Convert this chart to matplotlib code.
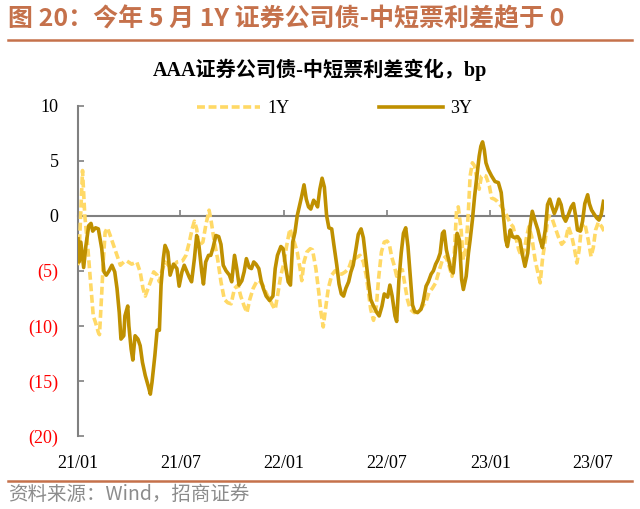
import matplotlib.pyplot as plt
import matplotlib.dates as mdates
from matplotlib.lines import Line2D
import pandas as pd

# AAA 证券公司债 - 中短票 利差 (bp)
dates_3y = ['2021-01-01', '2021-01-03', '2021-01-06', '2021-01-11', '2021-01-15', '2021-01-20', '2021-01-24',
            '2021-01-27', '2021-02-01', '2021-02-06', '2021-02-12', '2021-02-16', '2021-02-20', '2021-02-25',
            '2021-03-02', '2021-03-07', '2021-03-11', '2021-03-15', '2021-03-18', '2021-03-23', '2021-03-25',
            '2021-03-30', '2021-04-01', '2021-04-05', '2021-04-08', '2021-04-12', '2021-04-17', '2021-04-21',
            '2021-04-25', '2021-04-30', '2021-05-06', '2021-05-09', '2021-05-12', '2021-05-17', '2021-05-21',
            '2021-05-25', '2021-05-28', '2021-06-01', '2021-06-04', '2021-06-09', '2021-06-13', '2021-06-19',
            '2021-06-25', '2021-06-29', '2021-07-04', '2021-07-08', '2021-07-13', '2021-07-17', '2021-07-21',
            '2021-07-26', '2021-07-30', '2021-08-03', '2021-08-08', '2021-08-11', '2021-08-15', '2021-08-20',
            '2021-08-24', '2021-08-28', '2021-09-02', '2021-09-07', '2021-09-11', '2021-09-15', '2021-09-20',
            '2021-09-26', '2021-09-30', '2021-10-05', '2021-10-09', '2021-10-13', '2021-10-18', '2021-10-22',
            '2021-10-26', '2021-10-31', '2021-11-04', '2021-11-08', '2021-11-12', '2021-11-17', '2021-11-21',
            '2021-11-25', '2021-11-30', '2021-12-06', '2021-12-12', '2021-12-16', '2021-12-20', '2021-12-26',
            '2021-12-30', '2022-01-04', '2022-01-08', '2022-01-12', '2022-01-16', '2022-01-20', '2022-01-24',
            '2022-01-28', '2022-02-01', '2022-02-05', '2022-02-09', '2022-02-13', '2022-02-17', '2022-02-22',
            '2022-02-26', '2022-03-01', '2022-03-05', '2022-03-09', '2022-03-13', '2022-03-17', '2022-03-21',
            '2022-03-26', '2022-03-30', '2022-04-04', '2022-04-08', '2022-04-12', '2022-04-16', '2022-04-20',
            '2022-04-25', '2022-04-29', '2022-05-03', '2022-05-08', '2022-05-12', '2022-05-17', '2022-05-21',
            '2022-05-26', '2022-05-30', '2022-06-03', '2022-06-08', '2022-06-14', '2022-06-18', '2022-06-23',
            '2022-06-27', '2022-07-03', '2022-07-07', '2022-07-11', '2022-07-16', '2022-07-19', '2022-07-23',
            '2022-07-27', '2022-07-31', '2022-08-04', '2022-08-08', '2022-08-12', '2022-08-16', '2022-08-20',
            '2022-08-25', '2022-08-31', '2022-09-04', '2022-09-09', '2022-09-13', '2022-09-18', '2022-09-22',
            '2022-09-26', '2022-09-30', '2022-10-04', '2022-10-08', '2022-10-11', '2022-10-15', '2022-10-19',
            '2022-10-23', '2022-10-27', '2022-10-31', '2022-11-03', '2022-11-07', '2022-11-11', '2022-11-14',
            '2022-11-19', '2022-11-23', '2022-11-26', '2022-11-30', '2022-12-04', '2022-12-08', '2022-12-12',
            '2022-12-15', '2022-12-18', '2022-12-21', '2022-12-24', '2022-12-28', '2023-01-03', '2023-01-09',
            '2023-01-15', '2023-01-20', '2023-01-24', '2023-01-28', '2023-01-31', '2023-02-05', '2023-02-09',
            '2023-02-13', '2023-02-18', '2023-02-22', '2023-02-26', '2023-03-03', '2023-03-08', '2023-03-12',
            '2023-03-16', '2023-03-21', '2023-03-26', '2023-03-30', '2023-04-03', '2023-04-08', '2023-04-12',
            '2023-04-16', '2023-04-20', '2023-04-24', '2023-04-28', '2023-05-02', '2023-05-06', '2023-05-10',
            '2023-05-14', '2023-05-19', '2023-05-24', '2023-05-28', '2023-06-01', '2023-06-04', '2023-06-09',
            '2023-06-13', '2023-06-17', '2023-06-22', '2023-06-25', '2023-06-29', '2023-07-04', '2023-07-08',
            '2023-07-12', '2023-07-16', '2023-07-20']
spread_3y = [-2.1, -4.2, -2.4, -4.7, -2.7, -0.9, -0.7,
             -1.4, -1.1, -1.2, -3.0, -5.1, -5.4, -5.0,
             -4.5, -5.1, -6.6, -8.8, -11.2, -10.9, -9.1,
             -8.2, -10.0, -12.1, -13.1, -10.9, -11.2, -11.8,
             -13.3, -14.5, -15.6, -16.2, -15.1, -12.7, -10.4,
             -10.4, -6.3, -3.9, -2.7, -3.3, -5.4, -4.4,
             -4.8, -6.4, -5.1, -4.5, -5.1, -5.6, -6.0,
             -3.9, -1.8, -2.7, -5.1, -6.2, -4.2, -3.6,
             -3.6, -2.9, -1.8, -1.9, -2.6, -4.5, -5.0,
             -5.4, -6.0, -3.6, -4.8, -6.3, -5.9, -5.1,
             -3.9, -4.7, -4.8, -4.2, -4.4, -4.8, -5.9,
             -6.6, -7.3, -7.7, -7.3, -4.8, -3.6, -2.8,
             -3.0, -4.8, -6.0, -6.3, -2.4, -1.5, 0.0,
             0.9, 1.8, 2.8, 1.5, 0.8, 0.6, 1.4,
             1.1, 0.8, 2.4, 3.4, 2.6, 0.0, -1.1,
             -1.2, -2.7, -4.5, -6.2, -7.1, -7.3, -6.6,
             -6.0, -5.1, -4.5, -3.0, -1.7, -1.2, -2.0,
             -4.2, -6.0, -7.6, -8.2, -8.8, -9.1, -8.2,
             -7.1, -7.4, -6.3, -7.3, -9.1, -9.6, -5.8,
             -3.4, -1.6, -1.1, -2.8, -5.5, -8.1, -8.7,
             -8.8, -8.5, -7.8, -6.4, -6.0, -5.3, -5.0,
             -4.4, -4.0, -3.4, -1.6, -1.4, -3.1, -4.0,
             -4.9, -5.2, -3.1, -1.6, -2.2, -5.8, -6.7,
             -5.5, -3.4, -2.2, -0.4, 1.8, 3.6, 5.4,
             6.3, 6.7, 6.0, 4.8, 4.2, 3.6, 3.1,
             3.0, 2.1, -0.1, -2.2, -2.8, -1.3, -1.9,
             -2.0, -1.9, -2.2, -3.4, -4.6, -3.4, -1.0,
             0.4, -0.5, -1.3, -2.2, -2.9, -1.3, 1.0,
             1.5, 0.8, 0.2, 0.7, 1.5, 1.0, -0.1,
             -0.5, 0.1, 0.8, 1.1, -0.1, -1.3, -1.4,
             -0.5, 1.1, 1.9, 1.1, 0.5, 0.1, -0.2,
             -0.4, 0.1, 1.3]

dates_1y = ['2021-01-01', '2021-01-04', '2021-01-09', '2021-01-13', '2021-01-18', '2021-01-24', '2021-01-28',
            '2021-02-01', '2021-02-06', '2021-02-08', '2021-02-12', '2021-02-15', '2021-02-18', '2021-02-22',
            '2021-02-27', '2021-03-05', '2021-03-11', '2021-03-17', '2021-03-23', '2021-03-28', '2021-04-06',
            '2021-04-15', '2021-04-21', '2021-04-26', '2021-04-30', '2021-05-05', '2021-05-10', '2021-05-15',
            '2021-05-21', '2021-05-25', '2021-05-29', '2021-06-04', '2021-06-10', '2021-06-16', '2021-06-25',
            '2021-07-05', '2021-07-11', '2021-07-17', '2021-07-22', '2021-07-26', '2021-07-30', '2021-08-03',
            '2021-08-10', '2021-08-15', '2021-08-21', '2021-08-25', '2021-08-30', '2021-09-05', '2021-09-11',
            '2021-09-17', '2021-09-23', '2021-09-29', '2021-10-05', '2021-10-11', '2021-10-16', '2021-10-22',
            '2021-10-27', '2021-11-01', '2021-11-07', '2021-11-13', '2021-11-18', '2021-11-24', '2021-11-30',
            '2021-12-06', '2021-12-12', '2021-12-16', '2021-12-20', '2021-12-26', '2022-01-01', '2022-01-05',
            '2022-01-11', '2022-01-17', '2022-01-24', '2022-01-29', '2022-02-01', '2022-02-05', '2022-02-10',
            '2022-02-16', '2022-02-20', '2022-02-26', '2022-03-03', '2022-03-07', '2022-03-11', '2022-03-15',
            '2022-03-20', '2022-03-26', '2022-04-01', '2022-04-07', '2022-04-13', '2022-04-19', '2022-04-25',
            '2022-05-01', '2022-05-06', '2022-05-15', '2022-05-21', '2022-05-26', '2022-05-30', '2022-06-03',
            '2022-06-08', '2022-06-13', '2022-06-17', '2022-06-22', '2022-06-27', '2022-07-02', '2022-07-06',
            '2022-07-10', '2022-07-15', '2022-07-19', '2022-07-24', '2022-07-29', '2022-08-02', '2022-08-07',
            '2022-08-12', '2022-08-19', '2022-08-28', '2022-09-03', '2022-09-09', '2022-09-14', '2022-09-20',
            '2022-09-26', '2022-10-02', '2022-10-08', '2022-10-14', '2022-10-20', '2022-10-25', '2022-10-29',
            '2022-11-02', '2022-11-05', '2022-11-10', '2022-11-14', '2022-11-19', '2022-11-23', '2022-11-26',
            '2022-11-30', '2022-12-04', '2022-12-08', '2022-12-12', '2022-12-16', '2022-12-19', '2022-12-24',
            '2022-12-30', '2023-01-03', '2023-01-08', '2023-01-13', '2023-01-21', '2023-01-30', '2023-02-05',
            '2023-02-10', '2023-02-16', '2023-02-20', '2023-02-25', '2023-03-02', '2023-03-06', '2023-03-10',
            '2023-03-15', '2023-03-21', '2023-03-26', '2023-03-30', '2023-04-03', '2023-04-08', '2023-04-13',
            '2023-04-19', '2023-04-25', '2023-05-01', '2023-05-07', '2023-05-14', '2023-05-19', '2023-05-25',
            '2023-05-30', '2023-06-03', '2023-06-07', '2023-06-11', '2023-06-17', '2023-06-23', '2023-06-28',
            '2023-07-02', '2023-07-06', '2023-07-11', '2023-07-17', '2023-07-21']
spread_1y = [-4.5, -2.0, 4.1, 0.0, -2.7, -6.6, -9.1,
             -9.7, -10.6, -10.8, -7.0, -3.9, -1.5, -1.1,
             -1.8, -2.7, -3.6, -4.5, -4.2, -4.1, -4.4,
             -4.2, -5.1, -6.6, -7.3, -6.6, -5.9, -5.1,
             -5.4, -6.0, -5.1, -4.2, -4.5, -4.8, -4.2,
             -4.1, -3.6, -2.4, -1.2, -0.5, -1.2, -2.7,
             -2.4, -0.9, 0.5, -0.6, -2.3, -3.9, -6.0,
             -7.6, -7.9, -8.0, -6.6, -6.3, -7.3, -8.2,
             -8.8, -7.6, -6.6, -6.0, -5.9, -6.3, -7.0,
             -7.6, -8.2, -8.5, -7.3, -5.4, -4.2, -2.8,
             -1.2, -2.1, -3.3, -4.8, -5.9, -4.2, -3.3,
             -3.0, -3.1, -4.8, -6.9, -8.8, -10.1, -8.5,
             -6.6, -5.4, -5.0, -5.3, -5.3, -5.1, -4.8,
             -3.9, -3.9, -3.6, -4.2, -5.4, -6.9, -8.5,
             -9.5, -8.2, -5.7, -3.3, -2.4, -2.3, -2.6,
             -3.7, -4.6, -5.5, -5.0, -4.9, -6.1, -7.6,
             -8.5, -8.8, -8.7, -8.2, -7.8, -7.0, -6.6,
             -6.1, -5.0, -4.0, -3.7, -4.6, -5.5, -3.4,
             0.5, 0.8, -1.3, -4.0, -2.8, 0.5, 3.6,
             4.8, 4.5, 3.3, 2.4, 3.6, 3.7, 3.6,
             2.7, 1.6, 1.5, 1.3, 0.8, 0.0, -0.7,
             -1.0, -2.2, -3.1, -3.7, -3.1, -1.9, -1.0,
             -1.9, -4.0, -5.2, -6.1, -4.0, -2.2, 0.0,
             -0.1, -1.0, -1.9, -2.6, -2.2, -1.0, -1.9,
             -3.1, -4.3, -3.1, -1.0, -0.7, -2.2, -3.7,
             -2.9, -1.3, -0.6, -1.0, -1.4]

xtick_dates = ['2021-01-01', '2021-07-01', '2022-01-01', '2022-07-01', '2023-01-01', '2023-07-01']
xtick_labels = ['21/01', '21/07', '22/01', '22/07', '23/01', '23/07']
yticks = [-20, -15, -10, -5, 0, 5, 10]
ytick_labels = ['(20)', '(15)', '(10)', '(5)', '0', '5', '10']

serif = 'Liberation Serif'
cjk = 'Noto Sans CJK SC'
grey = '#808080'
brand = '#C5714B'

fig = plt.figure(figsize=(6.4, 5.09), dpi=100)
ax = fig.add_axes([0.1219, 0.1434, 0.8219, 0.6493])

ax.plot(pd.to_datetime(dates_1y), spread_1y, color='#FFD966', lw=2.6, dashes=(2.2, 1.0), label='1Y', zorder=3)
ax.plot(pd.to_datetime(dates_3y), spread_3y, color='#BF9000', lw=2.6, label='3Y', zorder=4)

ax.set_xlim(pd.Timestamp('2021-01-01'), pd.Timestamp('2023-07-21'))
ax.set_ylim(-20, 10)

for s in ['top', 'right']:
    ax.spines[s].set_visible(False)
ax.spines['bottom'].set_position(('data', 0))
for s in ['bottom', 'left']:
    ax.spines[s].set_color(grey)
    ax.spines[s].set_linewidth(1.5)

xt = mdates.date2num(pd.to_datetime(xtick_dates))
ax.set_xticks(xt)
ax.tick_params(axis='x', direction='in', length=4, width=1.2, color=grey, labelbottom=False)
ax.set_yticks(yticks, ytick_labels, fontfamily=serif, fontsize=13)
ax.tick_params(axis='y', direction='in', length=4, width=1.2, color=grey, pad=14)
for lab, v in zip(ax.get_yticklabels(), yticks):
    if v < 0:
        lab.set_color('red')

# 标签放在底部
sec = ax.secondary_xaxis('bottom')
sec.set_xticks(xt, xtick_labels, fontfamily=serif, fontsize=13)
sec.tick_params(length=0, pad=14)
sec.spines['bottom'].set_visible(False)

ax.legend(loc='center', bbox_to_anchor=(0.487, 0.99), ncol=2, frameon=False,
          handlelength=3.5, handletextpad=0.4, columnspacing=5,
          prop={'family': serif, 'size': 13})

fig.text(0.5, 1 - 70 / 509, 'AAA证券公司债-中短票利差变化，bp', ha='center', va='center',
         fontsize=14.5, fontweight='bold', family=[serif, cjk])
fig.text(8 / 640, 1 - 19 / 509, '图 20：今年 5 月 1Y 证券公司债-中短票利差趋于 0', ha='left', va='center',
         fontsize=18, fontweight='bold', color=brand, family=[cjk])
fig.add_artist(Line2D([8 / 640, 632 / 640], [1 - 40 / 509] * 2, transform=fig.transFigure, color=brand, lw=1.8))
fig.add_artist(Line2D([8 / 640, 632 / 640], [1 - 481 / 509] * 2, transform=fig.transFigure, color=brand, lw=1.8))
fig.text(8 / 640, 1 - 494 / 509, '资料来源：Wind，招商证券', ha='left', va='center',
         fontsize=14, color='#8C8C8C', family=[cjk])

fig.savefig('out.png', dpi=100)
